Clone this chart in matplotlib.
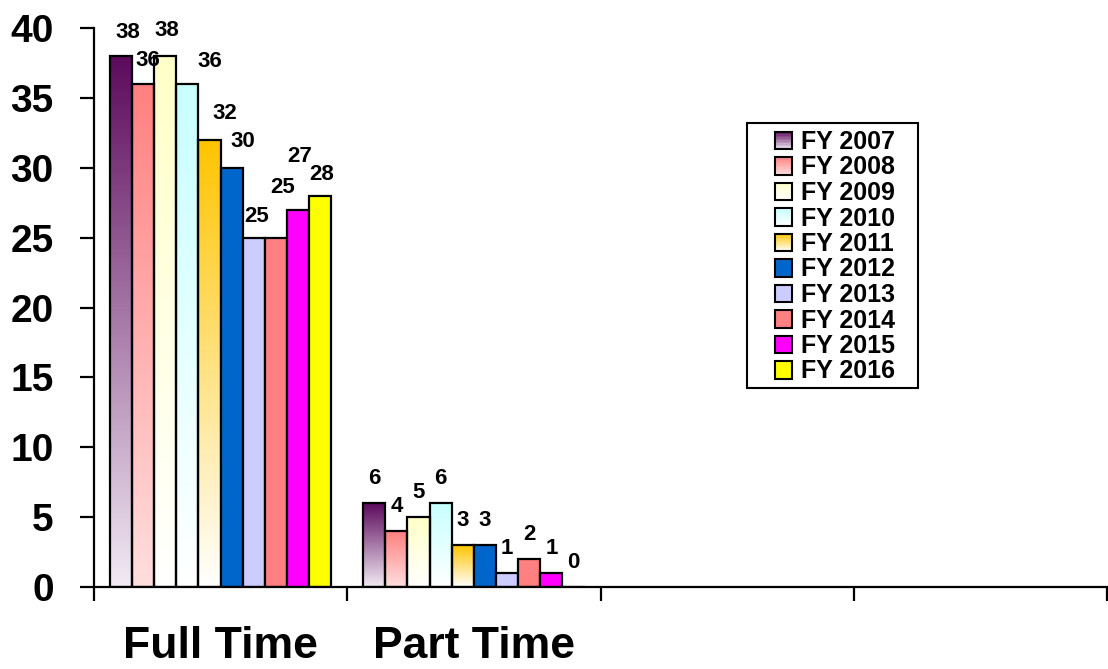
import numpy as np
import matplotlib
matplotlib.use("Agg")
import matplotlib.pyplot as plt
from matplotlib.patches import Rectangle
from matplotlib.legend_handler import HandlerBase
from matplotlib.colors import LinearSegmentedColormap, to_rgb

plt.rcParams['font.family'] = ['Liberation Sans', 'DejaVu Sans']
plt.rcParams['font.weight'] = 'bold'

categories = ["Full Time", "Part Time", "", ""]
years = ["FY 2007", "FY 2008", "FY 2009", "FY 2010", "FY 2011",
         "FY 2012", "FY 2013", "FY 2014", "FY 2015", "FY 2016"]
full_time = [38, 36, 38, 36, 32, 30, 25, 25, 27, 28]
part_time = [6, 4, 5, 6, 3, 3, 1, 2, 1, 0]

# (top colour, bottom colour); same colour twice = solid fill
colors = [("#5c0a5c", "#f2eaf4"), ("#ff8080", "#ffdede"), ("#ffffc8", "#ffffff"),
          ("#c8ffff", "#ffffff"), ("#ffc400", "#ffffff"), ("#0066cc", "#0066cc"),
          ("#ccccff", "#ccccff"), ("#ff8080", "#ff8080"), ("#ff00ff", "#ff00ff"),
          ("#ffff00", "#ffff00")]

# label offsets (points) for the full-time group, as laid out in the original
ft_label_dx = [5, 3, 1, 16, 11, 8, 2, 5, 1, 1]
ft_label_dy = [17, 17, 18, 16, 19, 19, 15, 36, 38, 15]


def grad_cmap(top, bottom):
    return LinearSegmentedColormap.from_list("g", [bottom, top])


class GradientHandler(HandlerBase):
    def __init__(self, top, bottom):
        super().__init__()
        self.top, self.bottom = top, bottom

    def create_artists(self, legend, orig_handle, xdescent, ydescent,
                       width, height, fontsize, trans):
        arts = []
        n = 12
        t, b = np.array(to_rgb(self.top)), np.array(to_rgb(self.bottom))
        for k in range(n):
            f = (k + 0.5) / n
            c = b * (1 - f) + t * f
            arts.append(Rectangle((-xdescent, -ydescent + height * k / n), width,
                                  height / n, facecolor=c, edgecolor="none",
                                  transform=trans))
        arts.append(Rectangle((-xdescent, -ydescent), width, height,
                              facecolor="none", edgecolor="black", lw=1.5,
                              transform=trans))
        return arts


W, H = 1108, 669
fig = plt.figure(figsize=(W / 100, H / 100), dpi=100)
ax = fig.add_axes([94 / W, (H - 587) / H, 1013 / W, 559 / H])

n = len(years)
group = 0.874
w = group / n
x = np.arange(len(categories))
series = [full_time, part_time]

handles = []
handler_map = {}
for i, (yr, (top, bottom)) in enumerate(zip(years, colors)):
    vals = [s[i] for s in series]
    pos = x[:len(vals)] + (i - (n - 1) / 2) * w
    solid = top == bottom
    bars = ax.bar(pos, vals, width=w, facecolor=top if solid else "none",
                  edgecolor="black", linewidth=1.6, zorder=3)
    if not solid:
        cmap = grad_cmap(top, bottom)
        grad = np.linspace(1, 0, 256).reshape(-1, 1)
        for b in bars:
            if b.get_height() <= 0:
                continue
            ax.imshow(grad, cmap=cmap, aspect="auto", interpolation="bicubic",
                      extent=(b.get_x(), b.get_x() + b.get_width(), 0, b.get_height()),
                      zorder=2)
    h = Rectangle((0, 0), 1, 1, facecolor=top, edgecolor="black", lw=1.5)
    handles.append(h)
    if not solid:
        handler_map[h] = GradientHandler(top, bottom)
    for j, (p, v) in enumerate(zip(pos, vals)):
        if j == 0:
            dx, dy = ft_label_dx[i], ft_label_dy[i]
        else:
            dx, dy = 0, 18
        ax.annotate(str(v), (p, v), xytext=(dx, dy), textcoords="offset points",
                    ha="center", va="center", fontsize=16, fontweight="bold",
                    zorder=5)

ax.set_xlim(-0.5, len(categories) - 0.5)
ax.set_ylim(0, 40)
ax.set_yticks(range(0, 41, 5))
ax.set_xticks(np.arange(len(categories) + 1) - 0.5)
ax.set_xticklabels([])
ax.set_xticks(x, minor=True)
ax.set_xticklabels(categories, minor=True)
ax.tick_params(axis="x", which="minor", length=0, pad=28, labelsize=32)
ax.tick_params(axis="x", which="major", length=10, width=1.6, direction="out")
ax.tick_params(axis="y", length=10, width=1.6, direction="out", pad=19, labelsize=28)
for lab in ax.get_xticklabels(minor=True) + ax.get_yticklabels():
    lab.set_fontweight("bold")

for s in ["top", "right"]:
    ax.spines[s].set_visible(False)
for s in ["left", "bottom"]:
    ax.spines[s].set_linewidth(1.6)
ax.spines["bottom"].set_zorder(4)

leg = ax.legend(handles, years, handler_map=handler_map, loc="upper left",
                bbox_to_anchor=(775 / W, 1 - 130 / H), bbox_transform=fig.transFigure,
                frameon=False, prop={"size": 18, "weight": "bold"},
                handlelength=0.7, handleheight=0.7, handletextpad=0.35,
                labelspacing=0.06, borderpad=0, borderaxespad=0)
leg.set_zorder(6)
# legend frame, wider on the left as in the original
frame = Rectangle((747 / W, 1 - 388 / H), 171 / W, 265 / H,
                  transform=fig.transFigure, facecolor="white",
                  edgecolor="black", lw=1.5, zorder=5.5, clip_on=False)
ax.add_patch(frame)

fig.savefig("out.png", dpi=100)
